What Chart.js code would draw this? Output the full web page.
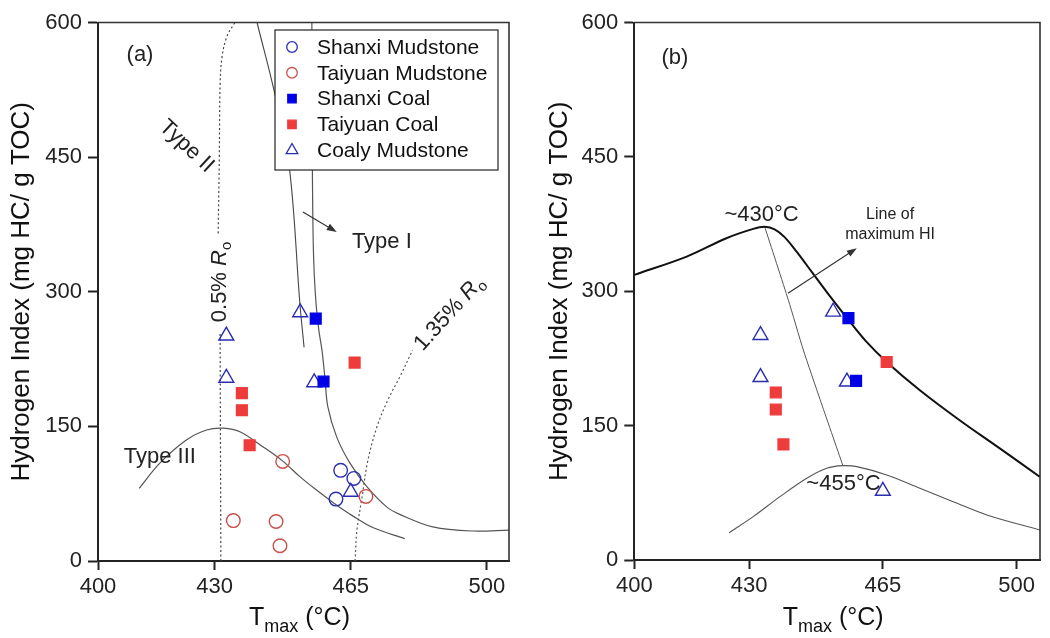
<!DOCTYPE html>
<html>
<head>
<meta charset="utf-8">
<script src="https://cdn.jsdelivr.net/npm/chart.js@4.4.1/dist/chart.umd.min.js"></script>
<style>
html, body { margin: 0; padding: 0; background: #fff; }
#wrap { position: relative; width: 1050px; height: 638px; }
#ca { position: absolute; left: 0; top: 0; }
#cb { position: absolute; left: 520px; top: 0; }
</style>
</head>
<body>
<div id="wrap">
  <canvas id="ca" width="520" height="638"></canvas>
  <canvas id="cb" width="530" height="638"></canvas>
</div>
<script>
// ===============================
// DATA
// ===============================
const xTicks = [400, 430, 465, 500];
const yTicks = [0, 150, 300, 450, 600];

// samples [Tmax, HI]
const shanxiMudstone = [[462.4, 101], [465.8, 92], [461.2, 69]];
const taiyuanMudstone = [[447.5, 111], [434.8, 45], [445.8, 44], [446.8, 17], [468.9, 72]];
const shanxiCoal = [[456, 270], [458, 200]];
const taiyuanCoal = [[466, 221], [437, 187], [437, 168], [439, 129]];
const coalyMudstone = [[433, 251], [433, 204], [452, 277], [455.6, 199], [465, 77]];

// panel (a) boundary curves
const typeIILine = [[440.9, 600], [445.6, 518], [449.3, 435], [451.9, 288], [453.0, 238]];
const typeICurve = [[455.0, 600], [455.1, 458], [455.4, 346], [456.0, 291], [456.8, 257], [457.6, 235],
  [458.4, 202], [459.1, 172], [461.4, 138], [464.8, 109], [469.2, 82.5], [474.3, 60], [477.6, 52],
  [486.1, 38], [496.4, 33.4], [505.7, 34.5]];
const typeIIICurve = [[410.6, 81], [415.9, 109], [422.8, 135], [427.9, 146], [432.2, 148], [436.5, 144],
  [442.5, 127], [447.6, 111], [451.9, 94], [456.2, 79], [460.5, 65], [465.6, 50], [470.8, 37], [478.9, 25]];
const ro05Lower = [[431.6, 0], [431.4, 254]];
const ro05Upper = [[430.9, 365], [431.2, 450], [431.4, 530], [431.9, 562], [433.2, 585], [435.2, 600]];
const ro135 = [[466.1, 0], [466.6, 34.5], [467.9, 71], [469.4, 112], [471.7, 149], [474.5, 179],
  [477.6, 205], [480.9, 235]];

// panel (b) curves
const hiEnvelope = [[400, 318.3], [413.7, 338.7], [424.1, 359.2], [431.1, 369.6], [434.1, 371.9],
  [436.7, 369.1], [439.3, 360.4], [442.5, 343.9], [446.6, 320.5], [451.1, 294.8], [455.8, 269.1],
  [460.5, 244.6], [466.0, 221.1], [474.6, 189.8], [485.0, 156.3], [495.4, 125.1], [506.1, 92.7]];
const maxHiLine = [[434.1, 372], [440.3, 290], [444.2, 234.5], [448.6, 179], [454.5, 106]];
const lowerCurve = [[424.8, 30.5], [431.1, 48.4], [438.1, 70.7], [445.1, 91.2], [450.3, 102.4],
  [454.5, 105.3], [458.2, 104.2], [466, 94.9], [474.7, 80.1], [483.4, 65.1], [492.2, 50.3], [506.1, 33.5]];

// ===============================
// STYLE HELPERS
// ===============================
const FONT = '"Liberation Sans", Arial, sans-serif';
Chart.defaults.font.family = FONT;
Chart.defaults.color = '#222';

const BLUE_OPEN = '#2a2db0';
const RED_OPEN = '#c9504a';
const BLUE_FILL = '#0000e6';
const RED_FILL = '#ee3b3b';

const pts = (arr) => arr.map(p => ({ x: p[0], y: p[1] }));

function markerSet(label, data, style, color, fill, radius) {
    return {
        label, data: pts(data), sample: true,
        pointStyle: style, pointRadius: radius, pointHoverRadius: radius,
        pointBorderColor: color, pointBackgroundColor: fill, pointBorderWidth: 1.4,
        showLine: false
    };
}

function curveSet(data, color, width, dash, tension) {
    return {
        data: pts(data), showLine: true, pointRadius: 0, pointHoverRadius: 0,
        borderColor: color, borderWidth: width, borderDash: dash || [],
        tension: tension === undefined ? 0.35 : tension, fill: false
    };
}

// text with parts (for R subscript o), centred on (cx, cy), rotated deg
function drawRich(ctx, parts, cx, cy, deg, size) {
    ctx.save();
    ctx.translate(cx, cy);
    ctx.rotate(deg * Math.PI / 180);
    let w = 0;
    parts.forEach(p => {
        ctx.font = (p.italic ? 'italic ' : '') + (p.size || size) + 'px ' + FONT;
        p.w = ctx.measureText(p.t).width;
        w += p.w;
    });
    let x = -w / 2;
    ctx.textBaseline = 'alphabetic';
    ctx.textAlign = 'left';
    parts.forEach(p => {
        ctx.font = (p.italic ? 'italic ' : '') + (p.size || size) + 'px ' + FONT;
        ctx.fillText(p.t, x, size * 0.36 + (p.dy || 0));
        x += p.w;
    });
    ctx.restore();
}

function drawArrow(ctx, x1, y1, x2, y2) {
    const a = Math.atan2(y2 - y1, x2 - x1);
    const hl = 10, hw = 3.5;
    ctx.beginPath();
    ctx.moveTo(x1, y1);
    ctx.lineTo(x2 - Math.cos(a) * hl * 0.8, y2 - Math.sin(a) * hl * 0.8);
    ctx.stroke();
    ctx.beginPath();
    ctx.moveTo(x2, y2);
    ctx.lineTo(x2 - Math.cos(a) * hl + Math.sin(a) * hw, y2 - Math.sin(a) * hl - Math.cos(a) * hw);
    ctx.lineTo(x2 - Math.cos(a) * hl - Math.sin(a) * hw, y2 - Math.sin(a) * hl + Math.cos(a) * hw);
    ctx.closePath();
    ctx.fill();
}

// annotations, frame, x title and (optional) legend
function makePanelPlugin(cfg) {
    return {
        id: 'panel',
        afterDatasetsDraw(chart) {
            const { ctx, chartArea: ca, scales: { x, y } } = chart;
            ctx.save();
            ctx.fillStyle = '#222';
            cfg.texts.forEach(t => {
                drawRich(ctx, t.parts, x.getPixelForValue(t.x), y.getPixelForValue(t.y), t.rot || 0, t.size || 22);
            });
            ctx.strokeStyle = '#333';
            ctx.fillStyle = '#333';
            ctx.lineWidth = 1.2;
            cfg.arrows.forEach(a => {
                drawArrow(ctx, x.getPixelForValue(a[0][0]), y.getPixelForValue(a[0][1]),
                    x.getPixelForValue(a[1][0]), y.getPixelForValue(a[1][1]));
            });

            // frame top / right
            ctx.strokeStyle = '#333';
            ctx.lineWidth = 1.6;
            ctx.beginPath();
            ctx.moveTo(ca.left, ca.top);
            ctx.lineTo(ca.right, ca.top);
            ctx.lineTo(ca.right, ca.bottom);
            ctx.stroke();

            // legend
            if (cfg.legend) {
                const bx = ca.left + 177, by = ca.top + 7.5, bw = 223, bh = 140;
                ctx.fillStyle = '#fff';
                ctx.fillRect(bx, by, bw, bh);
                ctx.strokeStyle = '#222';
                ctx.lineWidth = 1.2;
                ctx.strokeRect(bx, by, bw, bh);
                const items = chart.data.datasets.filter(d => d.sample);
                items.forEach((d, i) => {
                    const cy = by + 17 + i * 25.8;
                    ctx.strokeStyle = d.pointBorderColor;
                    ctx.fillStyle = d.pointBackgroundColor;
                    ctx.lineWidth = 1.3;
                    Chart.helpers.drawPoint(ctx, { pointStyle: d.pointStyle, radius: d.pointRadius * 0.78, borderWidth: 1.3, rotation: 0 }, bx + 17, cy);
                    ctx.fillStyle = '#111';
                    ctx.font = '21px ' + FONT;
                    ctx.textBaseline = 'middle';
                    ctx.textAlign = 'left';
                    ctx.fillText(d.label, bx + 42, cy + 1);
                });
            }
            ctx.restore();
        },
        afterDraw(chart) {
            const { ctx, chartArea: ca } = chart;
            ctx.save();
            ctx.fillStyle = '#111';
            ctx.textBaseline = 'alphabetic';
            ctx.textAlign = 'left';
            const parts = [{ t: 'T', s: 25, dy: 0 }, { t: 'max', s: 18, dy: 7 }, { t: ' (\u00B0C)', s: 25, dy: 0 }];
            let w = 0;
            parts.forEach(p => { ctx.font = p.s + 'px ' + FONT; p.w = ctx.measureText(p.t).width; w += p.w; });
            let xx = (ca.left + ca.right) / 2 - 4 - w / 2;
            parts.forEach(p => {
                ctx.font = p.s + 'px ' + FONT;
                ctx.fillText(p.t, xx, 625 + p.dy);
                xx += p.w;
            });
            ctx.restore();
        }
    };
}

function makeOptions(xMax, padRight, yAxisW, xAxisH, titlePad) {
    return {
        responsive: false,
        animation: false,
        events: [],
        layout: { padding: { top: 22.5, right: padRight, left: 0, bottom: 0 } },
        plugins: { legend: { display: false }, tooltip: { enabled: false } },
        scales: {
            x: {
                type: 'linear', min: 400, max: xMax,
                afterBuildTicks: s => { s.ticks = xTicks.map(v => ({ value: v })); },
                afterFit: s => { s.height = xAxisH; },
                grid: { drawOnChartArea: false, drawTicks: true, tickLength: 9, tickWidth: 2, tickColor: '#222' },
                border: { display: true, color: '#222', width: 2 },
                ticks: { font: { size: 22 }, color: '#222', padding: 4, maxRotation: 0, autoSkip: false }
            },
            y: {
                type: 'linear', min: 0, max: 600,
                afterBuildTicks: s => { s.ticks = yTicks.map(v => ({ value: v })); },
                afterFit: s => { s.width = yAxisW; },
                grid: { drawOnChartArea: false, drawTicks: true, tickLength: 10, tickWidth: 2, tickColor: '#222' },
                border: { display: true, color: '#222', width: 2 },
                ticks: { font: { size: 22 }, color: '#222', padding: 6 },
                title: {
                    display: true, text: 'Hydrogen Index (mg HC/ g TOC)',
                    font: { size: 26 }, color: '#111', padding: { top: titlePad, bottom: 0 }
                }
            }
        }
    };
}

const RO = (num) => [{ t: num + ' ' }, { t: 'R', italic: true }, { t: 'o', size: 15, dy: 5 }];

// ===============================
// PANEL (a)
// ===============================
new Chart(document.getElementById('ca'), {
    type: 'scatter',
    data: {
        datasets: [
            markerSet('Shanxi Mudstone', shanxiMudstone, 'circle', BLUE_OPEN, 'rgba(0,0,0,0)', 6.8),
            markerSet('Taiyuan Mudstone', taiyuanMudstone, 'circle', RED_OPEN, 'rgba(0,0,0,0)', 6.8),
            markerSet('Shanxi Coal', shanxiCoal, 'rect', BLUE_FILL, BLUE_FILL, 7.6),
            markerSet('Taiyuan Coal', taiyuanCoal, 'rect', RED_FILL, RED_FILL, 7.6),
            markerSet('Coaly Mudstone', coalyMudstone, 'triangle', BLUE_OPEN, 'rgba(0,0,0,0)', 8.6),
            curveSet(typeIILine, '#444', 1.1),
            curveSet(typeICurve, '#555', 1.2),
            curveSet(typeIIICurve, '#555', 1.2),
            curveSet(ro05Lower, '#444', 1.2, [2, 2.5], 0),
            curveSet(ro05Upper, '#444', 1.2, [2, 2.5]),
            curveSet(ro135, '#555', 1.2, [2, 2.5])
        ]
    },
    options: makeOptions(505.7, 11, 98, 77, 6),
    plugins: [makePanelPlugin({
        legend: true,
        texts: [
            { parts: [{ t: '(a)' }], x: 410.8, y: 566 },
            { parts: [{ t: 'Type II' }], x: 423.1, y: 463.5, rot: 43 },
            { parts: [{ t: 'Type I' }], x: 473, y: 357.7 },
            { parts: [{ t: 'Type III' }], x: 415.9, y: 118.1 },
            { parts: RO('0.5%'), x: 430.8, y: 310.9, rot: -90 },
            { parts: RO('1.35%'), x: 490, y: 277.4, rot: -48 }
        ],
        arrows: [[[452.7, 388.9], [461.4, 366.6]]]
    })]
});

// ===============================
// PANEL (b)
// ===============================
new Chart(document.getElementById('cb'), {
    type: 'scatter',
    data: {
        datasets: [
            markerSet('Shanxi Coal', shanxiCoal, 'rect', BLUE_FILL, BLUE_FILL, 7.6),
            markerSet('Taiyuan Coal', taiyuanCoal, 'rect', RED_FILL, RED_FILL, 7.6),
            markerSet('Coaly Mudstone', coalyMudstone, 'triangle', BLUE_OPEN, 'rgba(0,0,0,0)', 8.6),
            curveSet(hiEnvelope, '#111', 2),
            curveSet(maxHiLine, '#555', 1, [], 0.2),
            curveSet(lowerCurve, '#555', 1.1)
        ]
    },
    options: makeOptions(506.1, 10, 114.3, 78, 24),
    plugins: [makePanelPlugin({
        legend: false,
        texts: [
            { parts: [{ t: '(b)' }], x: 410.6, y: 562.4 },
            { parts: [{ t: '~430\u00B0C' }], x: 433.3, y: 387.2 },
            { parts: [{ t: 'Line of' }], x: 466.9, y: 387.2, size: 16 },
            { parts: [{ t: 'maximum HI' }], x: 466.9, y: 364.9, size: 16 },
            { parts: [{ t: '~455\u00B0C' }], x: 454.7, y: 87.4 }
        ],
        arrows: [[[440.2, 297.8], [458.2, 348.1]]]
    })]
});
</script>
</body>
</html>
